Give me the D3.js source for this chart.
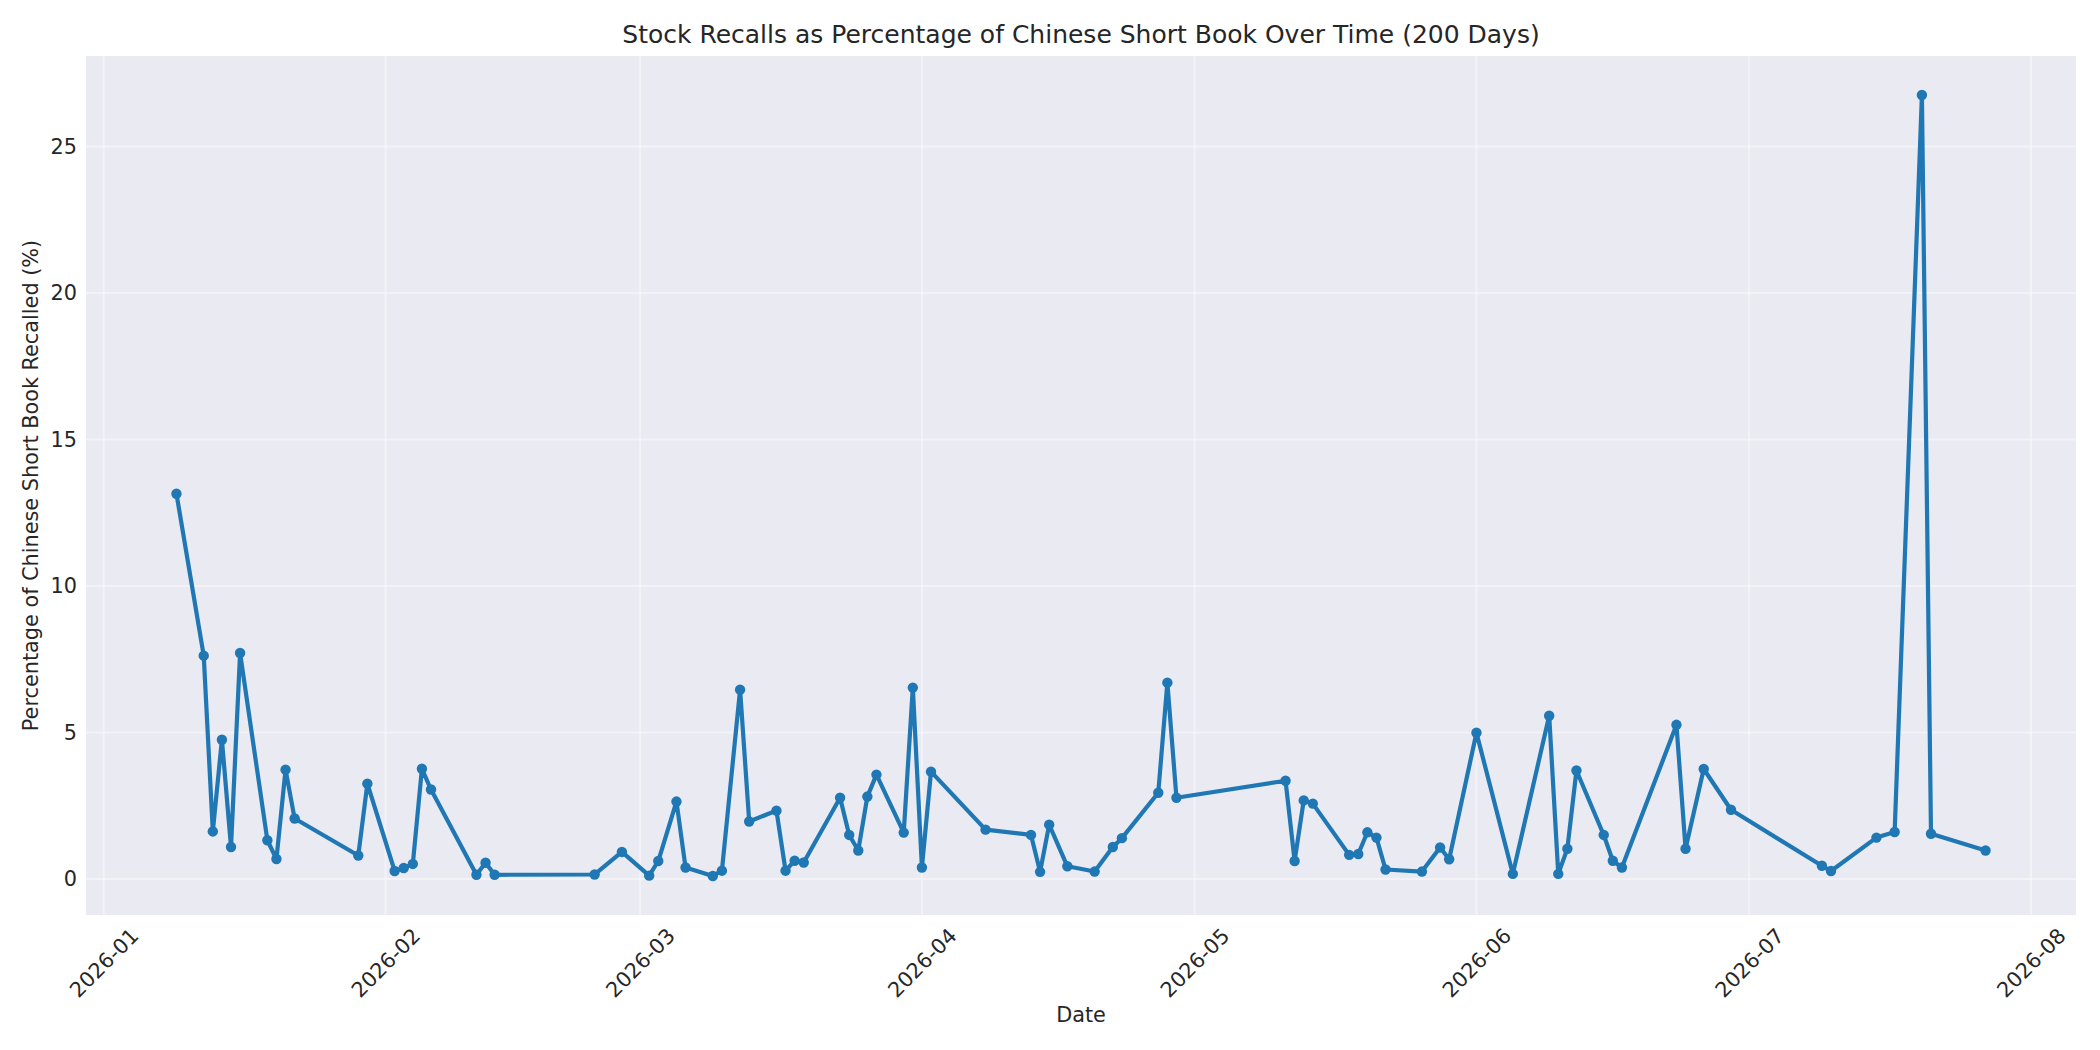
<!DOCTYPE html>
<html>
<head>
<meta charset="utf-8">
<script src="https://cdn.jsdelivr.net/npm/d3@7"></script>
<style>
  body { margin: 0; background: #fff; }
  svg { display: block; font-family: "DejaVu Sans", sans-serif; }
</style>
</head>
<body>
<svg id="main-chart"></svg>
<script>
// recall dates (business days with data) and % of short book recalled
const dates = [
  "2026-01-09","2026-01-12","2026-01-13","2026-01-14","2026-01-15","2026-01-16",
  "2026-01-19","2026-01-20","2026-01-21","2026-01-22","2026-01-29","2026-01-30",
  "2026-02-02","2026-02-03","2026-02-04","2026-02-05","2026-02-06","2026-02-11",
  "2026-02-12","2026-02-13","2026-02-24","2026-02-27","2026-03-02","2026-03-03",
  "2026-03-05","2026-03-06","2026-03-09","2026-03-10","2026-03-12","2026-03-13",
  "2026-03-16","2026-03-17","2026-03-18","2026-03-19","2026-03-23","2026-03-24",
  "2026-03-25","2026-03-26","2026-03-27","2026-03-30","2026-03-31","2026-04-01",
  "2026-04-02","2026-04-08","2026-04-13","2026-04-14","2026-04-15","2026-04-17",
  "2026-04-20","2026-04-22","2026-04-23","2026-04-27","2026-04-28","2026-04-29",
  "2026-05-11","2026-05-12","2026-05-13","2026-05-14","2026-05-18","2026-05-19",
  "2026-05-20","2026-05-21","2026-05-22","2026-05-26","2026-05-28","2026-05-29",
  "2026-06-01","2026-06-05","2026-06-09","2026-06-10","2026-06-11","2026-06-12",
  "2026-06-15","2026-06-16","2026-06-17","2026-06-23","2026-06-24","2026-06-26",
  "2026-06-29","2026-07-09","2026-07-10","2026-07-15","2026-07-17","2026-07-20",
  "2026-07-21","2026-07-27"
];
const recallPct = [
  13.15, 7.62, 1.62, 4.75, 1.09, 7.71,
  1.32, 0.68, 3.73, 2.06, 0.80, 3.25,
  0.27, 0.37, 0.51, 3.76, 3.05, 0.14,
  0.55, 0.14, 0.15, 0.92, 0.11, 0.61,
  2.64, 0.39, 0.10, 0.28, 6.46, 1.96,
  2.33, 0.28, 0.62, 0.56, 2.77, 1.50,
  0.97, 2.81, 3.56, 1.58, 6.53, 0.39,
  3.66, 1.68, 1.50, 0.24, 1.85, 0.43,
  0.25, 1.09, 1.39, 2.94, 6.70, 2.77,
  3.35, 0.61, 2.68, 2.57, 0.82, 0.85,
  1.59, 1.41, 0.32, 0.25, 1.07, 0.67,
  4.99, 0.17, 5.57, 0.17, 1.03, 3.70,
  1.50, 0.62, 0.39, 5.26, 1.03, 3.75,
  2.36, 0.45, 0.27, 1.41, 1.60, 26.76,
  1.54, 0.97
];
const yTicks = [0, 5, 10, 15, 20, 25];

const titleText = "Stock Recalls as Percentage of Chinese Short Book Over Time (200 Days)";
const xLabel = "Date";
const yLabel = "Percentage of Chinese Short Book Recalled (%)";

const width = 2100;
const height = 1050;
const margin = ({top: 56, right: 24, bottom: 135, left: 86});
const textColor = "#262626";
const lineColor = "#1f77b4";

const parseDate = d3.utcParse("%Y-%m-%d");
const data = dates.map((d, i) => ({date: parseDate(d), value: recallPct[i]}));

// matplotlib-like 5% padding on both axes
const xExt = d3.extent(data, d => d.date);
const xPad = (xExt[1] - xExt[0]) * 0.05;
const yExt = d3.extent(data, d => d.value);
const yPad = (yExt[1] - yExt[0]) * 0.05;

const x = d3.scaleUtc()
  .domain([new Date(+xExt[0] - xPad), new Date(+xExt[1] + xPad)])
  .range([margin.left, width - margin.right]);
const y = d3.scaleLinear()
  .domain([yExt[0] - yPad, yExt[1] + yPad])
  .range([height - margin.bottom, margin.top]);

const svg = d3.select("#main-chart")
  .attr("width", width)
  .attr("height", height);

svg.append("rect")
  .attr("x", margin.left)
  .attr("y", margin.top)
  .attr("width", width - margin.left - margin.right)
  .attr("height", height - margin.top - margin.bottom)
  .attr("fill", "#eaeaf2");

const monthTicks = d3.utcMonth.range(d3.utcMonth.ceil(x.domain()[0]), x.domain()[1]);

// grid
svg.append("g")
  .selectAll("line")
  .data(monthTicks)
  .join("line")
  .attr("x1", d => x(d)).attr("x2", d => x(d))
  .attr("y1", margin.top).attr("y2", height - margin.bottom)
  .attr("stroke", "#ffffff").attr("stroke-opacity", 0.4).attr("stroke-width", 2);

svg.append("g")
  .selectAll("line")
  .data(yTicks)
  .join("line")
  .attr("x1", margin.left).attr("x2", width - margin.right)
  .attr("y1", d => y(d)).attr("y2", d => y(d))
  .attr("stroke", "#ffffff").attr("stroke-opacity", 0.4).attr("stroke-width", 2);

// x axis
const xAxis = g => g
  .attr("transform", `translate(0,${height - margin.bottom})`)
  .call(d3.axisBottom(x).tickValues(monthTicks).tickFormat(d3.utcFormat("%Y-%m")).tickSize(0))
  .call(g => g.select(".domain").remove())
  .call(g => g.selectAll(".tick text")
    .attr("fill", textColor)
    .attr("font-size", 20.8)
    .attr("text-anchor", "middle")
    .attr("dy", null)
    .attr("y", 0)
    .attr("dominant-baseline", "central")
    .attr("transform", "translate(0,48) rotate(-45)"));

// y axis
const yAxis = g => g
  .attr("transform", `translate(${margin.left},0)`)
  .call(d3.axisLeft(y).tickValues(yTicks).tickSize(0).tickPadding(9))
  .call(g => g.select(".domain").remove())
  .call(g => g.selectAll(".tick text")
    .attr("fill", textColor)
    .attr("font-size", 20.8));

svg.append("g").call(xAxis).attr("font-family", null);
svg.append("g").call(yAxis).attr("font-family", null);

// line + markers
const line = d3.line()
  .x(d => x(d.date))
  .y(d => y(d.value));

svg.append("path")
  .datum(data)
  .attr("fill", "none")
  .attr("stroke", lineColor)
  .attr("stroke-width", 4.2)
  .attr("stroke-linejoin", "round")
  .attr("d", line);

svg.append("g")
  .selectAll("circle")
  .data(data)
  .join("circle")
  .attr("cx", d => x(d.date))
  .attr("cy", d => y(d.value))
  .attr("r", 5.2)
  .attr("fill", lineColor);

// titles
svg.append("text")
  .attr("x", (margin.left + width - margin.right) / 2)
  .attr("y", 43)
  .attr("text-anchor", "middle")
  .attr("font-size", 25)
  .attr("fill", textColor)
  .text(titleText);

svg.append("text")
  .attr("x", (margin.left + width - margin.right) / 2)
  .attr("y", 1022)
  .attr("text-anchor", "middle")
  .attr("font-size", 20.8)
  .attr("fill", textColor)
  .text(xLabel);

svg.append("text")
  .attr("transform", `translate(31,${(margin.top + height - margin.bottom) / 2}) rotate(-90)`)
  .attr("text-anchor", "middle")
  .attr("dominant-baseline", "central")
  .attr("font-size", 20.8)
  .attr("fill", textColor)
  .text(yLabel);
</script>
</body>
</html>
